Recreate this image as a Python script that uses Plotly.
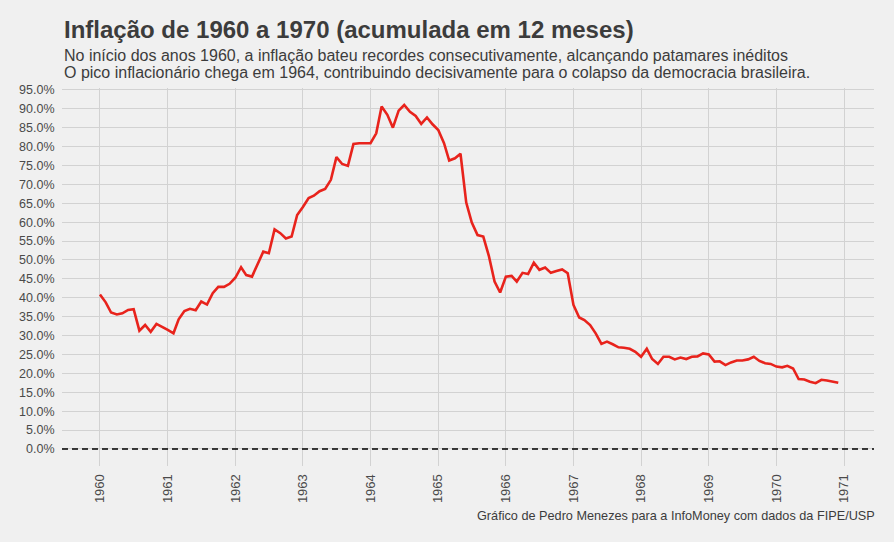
import plotly.graph_objects as go
import pandas as pd

# Monthly 12-month accumulated inflation (%), Jan 1960 .. Dec 1970
inflation = [
    40.9, 38.8, 36.1, 35.6, 35.9, 36.8, 37.0, 31.3, 32.8, 31.0, 33.1, 32.2,   # 1960
    31.5, 30.6, 34.3, 36.5, 37.1, 36.7, 39.0, 38.2, 41.2, 42.9, 42.9, 43.7,   # 1961
    45.3, 48.1, 46.0, 45.6, 48.7, 52.2, 51.8, 58.1, 57.1, 55.7, 56.2, 61.9,   # 1962
    64.0, 66.4, 67.0, 68.2, 68.8, 71.2, 77.2, 75.4, 74.9, 80.7, 80.9, 80.9,   # 1963
    80.9, 83.5, 90.6, 88.4, 85.0, 89.5, 91.0, 89.2, 88.1, 86.0, 87.7, 85.9,   # 1964
    84.4, 80.9, 76.3, 76.9, 78.1, 65.2, 59.9, 56.6, 56.2, 51.1, 44.3, 41.4,   # 1965
    45.6, 45.8, 44.3, 46.6, 46.3, 49.3, 47.4, 48.0, 46.6, 47.1, 47.5, 46.5,   # 1966
    38.1, 34.8, 34.1, 32.8, 30.6, 27.8, 28.4, 27.7, 26.9, 26.8, 26.5, 25.7,   # 1967
    24.4, 26.5, 23.8, 22.5, 24.4, 24.4, 23.7, 24.2, 23.8, 24.4, 24.5, 25.3,   # 1968
    25.0, 23.1, 23.2, 22.2, 22.9, 23.4, 23.4, 23.7, 24.4, 23.3, 22.7, 22.5,   # 1969
    21.8, 21.6, 22.0, 21.3, 18.5, 18.4, 17.8, 17.4, 18.3, 18.1, 17.8, 17.5,   # 1970
]
dates = pd.date_range("1960-01-01", periods=len(inflation), freq="MS")

year_ticks = [f"{y}-01-01" for y in range(1960, 1972)]
year_labels = [str(y) for y in range(1960, 1972)]
y_ticks = list(range(0, 100, 5))
y_labels = [f"{v:.1f}%" for v in y_ticks]

title = "Inflação de 1960 a 1970 (acumulada em 12 meses)"
subtitle1 = "No início dos anos 1960, a inflação bateu recordes consecutivamente, alcançando patamares inéditos"
subtitle2 = "O pico inflacionário chega em 1964, contribuindo decisivamente para o colapso da democracia brasileira."
caption = "Gráfico de Pedro Menezes para a InfoMoney com dados da FIPE/USP"

BG = "#F0F0F0"
GRID = "#D2D2D2"
TXT = "#3C3C3C"
FONT = "Liberation Sans, Arial, Helvetica, sans-serif"

fig = go.Figure()
fig.add_trace(go.Scatter(
    x=dates, y=inflation, mode="lines",
    line=dict(color="#E8231C", width=2.6),
    showlegend=False,
))

fig.add_shape(type="line", xref="paper", yref="y", x0=0, x1=1, y0=0, y1=0,
              line=dict(color="black", width=1.4, dash="6px,4px"), layer="above")

fig.update_layout(
    width=894, height=542,
    paper_bgcolor=BG, plot_bgcolor=BG,
    margin=dict(l=62, r=20, t=88, b=76),
    font=dict(family=FONT, color=TXT),
    xaxis=dict(
        type="date",
        range=["1959-06-10", "1971-06-12"],
        tickvals=year_ticks, ticktext=year_labels,
        tickangle=-90,
        showgrid=True, gridcolor=GRID, gridwidth=1,
        zeroline=False, showline=False,
        ticks="outside", ticklen=2, tickcolor=BG,
        tickfont=dict(size=13, color="#4A4A4A"),
    ),
    yaxis=dict(
        range=[-4.5, 95.5],
        tickvals=y_ticks, ticktext=y_labels,
        showgrid=True, gridcolor=GRID, gridwidth=1,
        zeroline=False, showline=False,
        ticks="outside", ticklen=4, tickcolor=BG,
        tickfont=dict(size=12.5, color="#4A4A4A"),
    ),
    annotations=[
        dict(text=f"<b>{title}</b>", xref="paper", yref="paper", x=0, y=1.155,
             xanchor="left", yanchor="middle", showarrow=False,
             font=dict(size=24, color=TXT, family=FONT)),
        dict(text=subtitle1, xref="paper", yref="paper", x=0, y=1.0870,
             xanchor="left", yanchor="middle", showarrow=False,
             font=dict(size=16, color=TXT, family=FONT)),
        dict(text=subtitle2, xref="paper", yref="paper", x=0, y=1.0410,
             xanchor="left", yanchor="middle", showarrow=False,
             font=dict(size=16, color=TXT, family=FONT)),
        dict(text=caption, xref="paper", yref="paper", x=1.004, y=-0.1323,
             xanchor="right", yanchor="middle", showarrow=False,
             font=dict(size=12.7, color=TXT, family=FONT)),
    ],
)

fig.write_html(
    "out.html",
    config={"displayModeBar": False},
    post_script="document.body.style.margin='0';document.body.style.background='#F0F0F0';",
)
